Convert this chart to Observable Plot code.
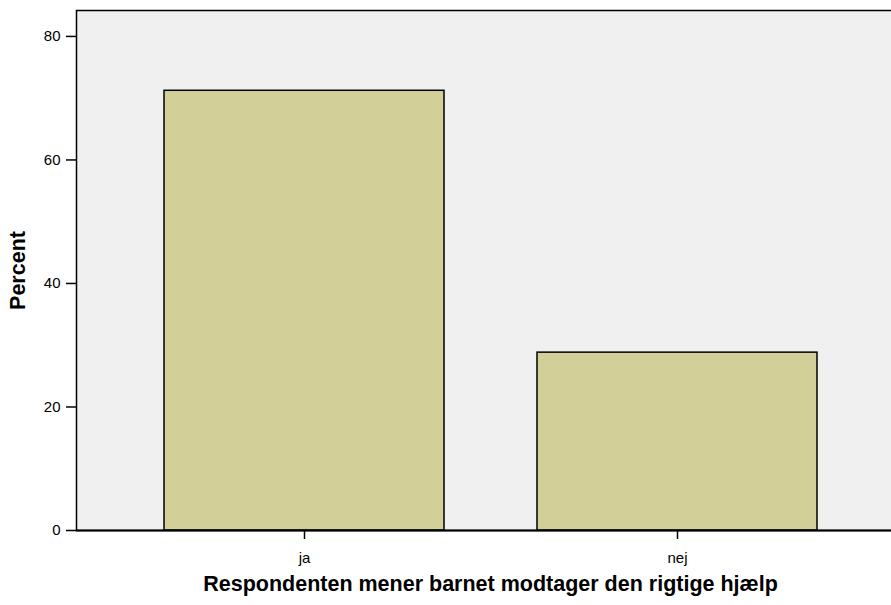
<!DOCTYPE html>
<html>
<head>
<meta charset="utf-8">
<script src="https://cdn.jsdelivr.net/npm/d3@7"></script>
<script src="https://cdn.jsdelivr.net/npm/@observablehq/plot@0.6"></script>
<style>
  html, body { margin: 0; padding: 0; background: white; overflow: hidden; }
  #chart svg { font-family: "Liberation Sans", Arial, sans-serif; }
</style>
</head>
<body>
<div id="chart"></div>
<script>
const categories = ["ja", "nej"];
const percents = [71.2, 28.8];
const yTicks = [0, 20, 40, 60, 80];
const xTitle = "Respondenten mener barnet modtager den rigtige hjælp";
const yTitle = "Percent";

const data = categories.map((c, i) => ({category: c, percent: percents[i]}));

const chart = Plot.plot({
  width: 891,
  height: 605,
  marginTop: 10,
  marginBottom: 75,
  marginLeft: 76,
  marginRight: -13,
  style: {fontFamily: "'Liberation Sans', Arial, sans-serif", background: "white", overflow: "hidden"},
  x: {domain: categories, paddingInner: 0.25, paddingOuter: 0.232},
  y: {domain: [0, 84.2]},
  marks: [
    Plot.frame({fill: "#f0f0f0", stroke: "black", strokeWidth: 1.5}),
    Plot.barY(data, {x: "category", y: "percent", fill: "#d3cf98", stroke: "black", strokeWidth: 1.5}),
    Plot.ruleY([0], {stroke: "black", strokeWidth: 2}),
    Plot.axisY({ticks: yTicks, tickSize: 10, tickPadding: 6, fontSize: 15, label: null, stroke: "black", strokeWidth: 1.5, color: "black"}),
    Plot.axisX({tickSize: 9, tickPadding: 13, fontSize: 15, label: null, stroke: "black", strokeWidth: 1.5, color: "black"}),
    Plot.text([xTitle], {frameAnchor: "bottom", dy: 60, fontWeight: "bold", fontSize: 21.5, fill: "black"}),
    Plot.text([yTitle], {frameAnchor: "left", textAnchor: "middle", dx: -58, rotate: -90, fontWeight: "bold", fontSize: 21.5, fill: "black"})
  ]
});
document.getElementById("chart").appendChild(chart);
</script>
</body>
</html>
